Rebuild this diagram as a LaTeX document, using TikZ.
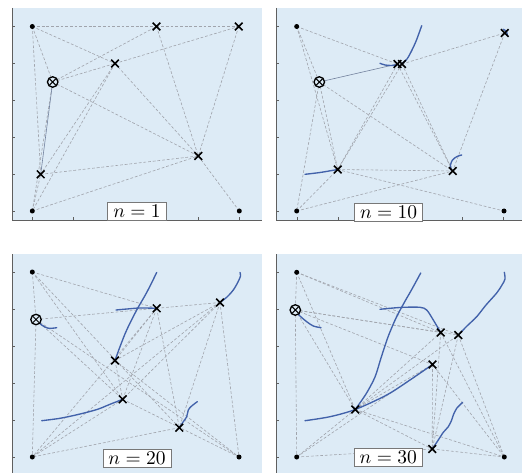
\documentclass[tikz,border=0pt]{standalone}
\usepackage{graphicx}
\usetikzlibrary{shapes.misc}
\definecolor{bgblue}{RGB}{221,235,246}
\definecolor{trackblue}{RGB}{66,98,170}
\definecolor{edgegray}{RGB}{160,164,172}
\definecolor{pathgray}{RGB}{115,130,158}
\definecolor{axisgray}{RGB}{95,95,95}
\definecolor{boxgray}{RGB}{120,120,120}
\newcommand{\lbltext}[1]{\scalebox{1.95}{$#1$}}
\tikzset{
  edge/.style={draw=edgegray, line width=0.6pt, dash pattern=on 2.8pt off 1.9pt},
  pathline/.style={draw=pathgray, line width=0.6pt},
  track/.style={draw=trackblue, line width=1.35pt, line cap=round, line join=round},
  axisline/.style={draw=axisgray, line width=0.7pt},
  tickline/.style={draw=axisgray, line width=0.5pt},
  dotmark/.style={circle, fill=black, minimum size=5pt, inner sep=0pt},
  xmark/.style={cross out, draw=black, line width=1.5pt, minimum size=6.2pt, inner sep=0pt},
  srcring/.style={circle, draw=black, fill=bgblue, line width=1.3pt, minimum size=10.5pt, inner sep=0pt},
  srccross/.style={cross out, draw=black, line width=1pt, minimum size=5.4pt, inner sep=0pt},
  lbl/.style={draw=boxgray, fill=white, line width=0.7pt, inner xsep=5.5pt, inner ysep=2.6pt}
}
\begin{document}
\begin{tikzpicture}[x=1pt,y=-1pt]
\useasboundingbox (0,0) rectangle (522,473);
% backgrounds
\fill[bgblue] (12,8) rectangle (262,220);
\fill[bgblue] (276,8) rectangle (522,220);
\fill[bgblue] (12,254) rectangle (262,473);
\fill[bgblue] (276,254) rectangle (522,473);
% axes
\draw[axisline] (12,8) -- (12,220) -- (262,220);
\draw[axisline] (276,8) -- (276,220) -- (522,220);
\draw[axisline] (12,254) -- (12,473);
\draw[axisline] (276,254) -- (276,473);
\foreach \k in {0,...,5}{
  \draw[tickline] (12,{211-37*\k}) -- ++(2.5,0);
  \draw[tickline] (276,{211-37*\k}) -- ++(2.5,0);
  \draw[tickline] (12,{457-37*\k}) -- ++(2.5,0);
  \draw[tickline] (276,{457-37*\k}) -- ++(2.5,0);
  \draw[tickline] ({32.3+41.4*\k},220) -- ++(0,-2.5);
  \draw[tickline] ({296.8+41.35*\k},220) -- ++(0,-2.5);
}

% ================= Panel 1 (n=1)
\coordinate (a1A) at (32.3,26.5);
\coordinate (a1B) at (32.3,211);
\coordinate (a1C) at (239.3,211);
\coordinate (a1S) at (52.7,82);
\coordinate (a1X1) at (156.5,26.5);
\coordinate (a1X2) at (238.7,26.5);
\coordinate (a1X3) at (115,63.5);
\coordinate (a1X4) at (198.3,156);
\coordinate (a1X5) at (40.7,174.3);
\foreach \p/\q in {A/X1,X1/X2,A/X3,A/S,A/X5,S/X1,S/X3,X3/X2,X3/X4,X1/X4,X2/X4,S/X4,X3/X5,X3/B,B/S,B/X5,X5/X4,B/X4,X4/C}
  \draw[edge] (a1\p) -- (a1\q);
\draw[pathline] (a1S) -- (a1X5);
\node[dotmark] (a1Am) at (a1A) {};
\node[dotmark] (a1Bm) at (a1B) {};
\node[dotmark] (a1Cm) at (a1C) {};
\foreach \p in {X1,X2,X3,X4,X5} \node[xmark] (a1\p m) at (a1\p) {};
\node[srcring] (a1Sr) at (a1S) {};
\node[srccross] (a1Sc) at (a1S) {};
\node[lbl] (a1L) at (137,211.5) {\lbltext{n=1}};

% ================= Panel 2 (n=10)
\coordinate (b2A) at (296.7,26.5);
\coordinate (b2B) at (296.7,211);
\coordinate (b2C) at (504,211);
\coordinate (b2S) at (319.3,82);
\coordinate (b2P1) at (397.5,64);
\coordinate (b2P2) at (402,64);
\coordinate (b2Q) at (504.7,33);
\coordinate (b2R) at (337.7,169.5);
\coordinate (b2T) at (452.7,171);
\foreach \p/\q in {A/P1,P2/Q,A/S,A/R,S/R,S/B,S/T,P1/R,P2/R,P1/T,P2/T,Q/T,R/T,R/C,B/R,B/T}
  \draw[edge] (b2\p) -- (b2\q);
\draw[pathline] (b2S) -- (b2P1);
\draw[track] plot[smooth] coordinates {(380,63.3) (385,65) (392,65.5) (398,64.5)};
\draw[track] plot[smooth] coordinates {(401,64.5) (407,59) (412,50) (416.5,40) (421.7,25.7)};
\draw[track] plot[smooth] coordinates {(305,174.3) (320,172.5) (337.7,169.5)};
\draw[track] plot[smooth] coordinates {(451,170) (450.5,165) (452.5,160) (457,156.5) (461.7,155)};
\draw[track] plot[smooth] coordinates {(503.3,29.3) (506.5,31.5) (507.3,35.5)};
\node[dotmark] (b2Am) at (b2A) {};
\node[dotmark] (b2Bm) at (b2B) {};
\node[dotmark] (b2Cm) at (b2C) {};
\foreach \p in {P1,P2,Q,R,T} \node[xmark] (b2\p m) at (b2\p) {};
\node[srcring] (b2Sr) at (b2S) {};
\node[srccross] (b2Sc) at (b2S) {};
\node[lbl] (b2L) at (388.6,212) {\lbltext{n=10}};

% ================= Panel 3 (n=20)
\coordinate (c3A) at (32.3,272);
\coordinate (c3B) at (32.3,457);
\coordinate (c3C) at (239,457);
\coordinate (c3S) at (36,319.5);
\coordinate (c3X1) at (156.7,308.3);
\coordinate (c3X2) at (220,302.5);
\coordinate (c3X3) at (115,360.5);
\coordinate (c3X4) at (122.7,399.3);
\coordinate (c3X5) at (179.3,427.7);
\foreach \p/\q in {A/X1,A/S,S/B,S/X1,X1/X2,A/X5,A/X4,S/X4,S/C,X1/X3,X2/X3,X3/X4,X3/C,X1/X4,X1/B,X1/X5,X2/X4,X2/B,X2/X5,X2/C,X4/B,X4/C,X5/B}
  \draw[edge] (c3\p) -- (c3\q);
\draw[track] plot[smooth] coordinates {(36,319.5) (41.7,325) (48.3,328.3) (56.7,327.7)};
\draw[track] plot[smooth] coordinates {(115,360.5) (120,346.7) (126.7,330) (136.7,310) (146.7,292.5) (156.7,272.5)};
\draw[track] plot[smooth] coordinates {(116,310) (127,309) (140,308) (156.7,308.3)};
\draw[track] plot[smooth] coordinates {(220,302.5) (227,297) (233.3,290) (238,282) (240.5,276) (240,272.5)};
\draw[track] plot[smooth] coordinates {(41.7,420.7) (60,418.3) (78,414.5) (97,409.5) (110,404.3) (122.7,399.3)};
\draw[track] plot[smooth] coordinates {(179.3,427.7) (183.3,421.7) (186.7,416.7) (188.3,410) (191.7,406) (197.3,401.7)};
\node[dotmark] (c3Am) at (c3A) {};
\node[dotmark] (c3Bm) at (c3B) {};
\node[dotmark] (c3Cm) at (c3C) {};
\foreach \p in {X1,X2,X3,X4,X5} \node[xmark] (c3\p m) at (c3\p) {};
\node[srcring] (c3Sr) at (c3S) {};
\node[srccross] (c3Sc) at (c3S) {};
\node[lbl] (c3L) at (137,458) {\lbltext{n=20}};

% ================= Panel 4 (n=30)
\coordinate (d4A) at (296.7,272.3);
\coordinate (d4B) at (296.7,457);
\coordinate (d4C) at (504.3,457);
\coordinate (d4S) at (295.3,310);
\coordinate (d4Y1) at (440.7,332.5);
\coordinate (d4Y2) at (458.3,335);
\coordinate (d4Y3) at (432.5,364.5);
\coordinate (d4Y4) at (355.2,409.5);
\coordinate (d4Y5) at (432.2,449);
\foreach \p/\q in {A/Y1,A/Y2,A/S,S/B,S/Y1,S/Y2,A/Y4,S/Y4,S/Y3,Y4/Y1,Y4/Y2,Y4/Y3,Y4/B,Y4/C,Y4/Y5,B/Y5,B/Y3,Y5/C,Y3/Y5,Y1/Y5,Y2/Y5,Y1/C,Y2/C,Y3/C}
  \draw[edge] (d4\p) -- (d4\q);
\draw[track] plot[smooth] coordinates {(295.3,310) (300,316) (306.7,321.7) (313.3,326) (321,327.7)};
\draw[track] plot[smooth] coordinates {(355.2,409.5) (366,394) (375,377) (381,358) (388,337) (396,318) (404,303) (412,289) (420.7,273)};
\draw[track] plot[smooth] coordinates {(380,309.3) (390,308.3) (403.3,307.3) (420,307.3) (426.7,310) (433.3,320) (440.7,332.5)};
\draw[track] plot[smooth] coordinates {(458.3,335) (467,326) (476.7,316.7) (486,305) (496.7,293) (502,285) (505,279) (504.3,272.3)};
\draw[track] plot[smooth] coordinates {(305,420.7) (330,416.7) (355.2,409.5) (386.7,395) (410,380) (432.5,364.5)};
\draw[track] plot[smooth] coordinates {(432.2,449) (438.3,440) (443.3,432.3) (448.3,426.7) (451.7,420) (453.3,415) (456.7,408.3) (462.7,402.3)};
\node[dotmark] (d4Am) at (d4A) {};
\node[dotmark] (d4Bm) at (d4B) {};
\node[dotmark] (d4Cm) at (d4C) {};
\foreach \p in {Y1,Y2,Y3,Y4,Y5} \node[xmark] (d4\p m) at (d4\p) {};
\node[srcring] (d4Sr) at (d4S) {};
\node[srccross] (d4Sc) at (d4S) {};
\node[lbl] (d4L) at (388.3,457.5) {\lbltext{n=30}};
\end{tikzpicture}
\end{document}
